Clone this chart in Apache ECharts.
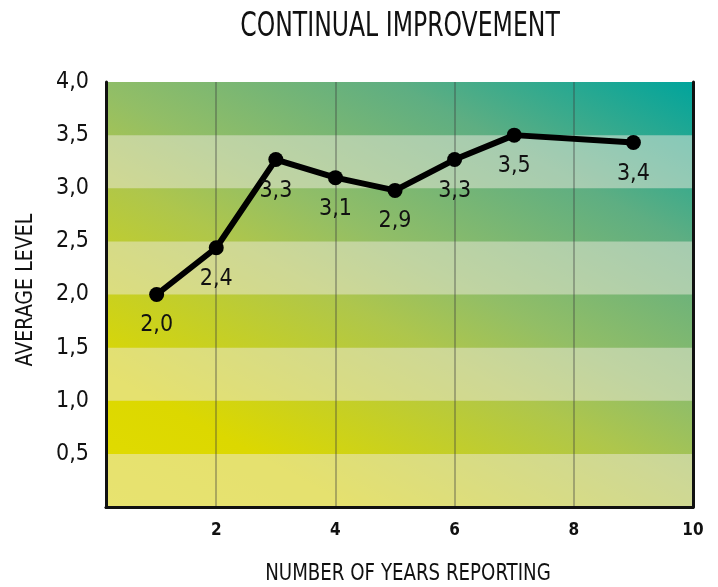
<!DOCTYPE html>
<html>
<head>
<meta charset="utf-8">
<script src="https://cdn.jsdelivr.net/npm/echarts@6/dist/echarts.min.js"></script>
<style>
  html, body { margin: 0; padding: 0; background: #fff; }
  #chart { width: 718px; height: 587px; }
</style>
</head>
<body>
<div id="chart"></div>
<script>
// data
const years = [1, 2, 3, 4, 5, 6, 7, 9];
const avgLevel = [2.0, 2.44, 3.27, 3.1, 2.98, 3.27, 3.5, 3.43];
const pointLabels = ["2,0", "2,4", "3,3", "3,1", "2,9", "3,3", "3,5", "3,4"];
const yTicks = ["", "0,5", "1,0", "1,5", "2,0", "2,5", "3,0", "3,5", "4,0"];

const FONT = "'DejaVu Sans Condensed', 'DejaVu Sans', sans-serif";

const chart = echarts.init(document.getElementById("chart"));

// plot box in pixels
const G = { left: 106, right: 25, top: 82, bottom: 80 };
const boxW = 718 - G.left - G.right, boxH = 587 - G.top - G.bottom;
const cx = G.left + boxW / 2, cy = G.top + boxH / 2;

// yellow (bottom left) to teal (top right), tilted steeper than the box diagonal
const ang = Math.atan(1.84);
const dx = Math.cos(ang), dy = -Math.sin(ang);
const half = (boxW / 2) * dx + (boxH / 2) * (-dy);
const bg = new echarts.graphic.LinearGradient(
    cx - half * dx, cy - half * dy, cx + half * dx, cy + half * dy,
    [
        { offset: 0, color: "#e2dc00" },
        { offset: 0.18, color: "#dcd800" },
        { offset: 0.45, color: "#aec64c" },
        { offset: 0.56, color: "#92be66" },
        { offset: 0.78, color: "#5eae82" },
        { offset: 1, color: "#00a49c" }
    ],
    true
);

const option = {
    animation: false,
    graphic: [
        {
            type: "text", x: 400, y: 27, scaleX: 0.77,
            style: {
                text: "CONTINUAL IMPROVEMENT", fill: "#111",
                font: "normal 34px " + FONT, align: "center", verticalAlign: "middle"
            }
        },
        {
            type: "text", x: 408, y: 574, scaleX: 0.88,
            style: {
                text: "NUMBER OF YEARS REPORTING", fill: "#111",
                font: "normal 23px " + FONT, align: "center", verticalAlign: "middle"
            }
        },
        {
            type: "text", x: 26, y: 290, rotation: Math.PI / 2, scaleX: 0.92,
            style: {
                text: "AVERAGE LEVEL", fill: "#111",
                font: "normal 23px " + FONT, align: "center", verticalAlign: "middle"
            }
        }
    ],
    grid: {
        left: G.left, right: G.right, top: G.top, bottom: G.bottom,
        show: true,
        backgroundColor: bg,
        borderWidth: 0
    },
    xAxis: [
        {
            type: "value",
            min: 0.15,
            max: 10,
            splitNumber: 5,
            axisLine: { show: true, lineStyle: { color: "#111", width: 3 } },
            axisTick: { show: false },
            axisLabel: {
                margin: 15,
                fontFamily: FONT, fontSize: 17, fontWeight: "bold", color: "#111",
                formatter: v => (v >= 1 ? String(v) : "")
            },
            splitLine: { show: true, lineStyle: { color: "rgba(60,60,60,0.35)", width: 2 } }
        },
        {
            type: "value", position: "top", min: 0.15, max: 10,
            axisLine: { show: true, lineStyle: { color: "#111", width: 2.5 } },
            axisTick: { show: false }, axisLabel: { show: false }, splitLine: { show: false }
        }
    ],
    yAxis: [
        {
            type: "value",
            min: 0,
            max: 4,
            interval: 0.5,
            axisLine: { show: true, lineStyle: { color: "#111", width: 3 } },
            axisTick: { show: false },
            axisLabel: {
                margin: 17,
                fontFamily: FONT, fontSize: 23, color: "#111",
                formatter: (v, i) => yTicks[i]
            },
            splitLine: { show: false },
            splitArea: {
                show: true,
                areaStyle: { color: ["rgba(238,234,222,0.5)", "rgba(0,0,0,0)"] }
            }
        },
        {
            type: "value", position: "right", min: 0, max: 4, interval: 0.5,
            axisLine: { show: true, lineStyle: { color: "#111", width: 3 } },
            axisTick: { show: false }, axisLabel: { show: false }, splitLine: { show: false }
        }
    ],
    series: [
        {
            type: "line",
            data: years.map((x, i) => [x, avgLevel[i]]),
            symbol: "circle",
            symbolSize: 15,
            itemStyle: { color: "#000" },
            lineStyle: { color: "#000", width: 6 },
            label: {
                show: true,
                position: "bottom",
                distance: 12,
                fontFamily: FONT, fontSize: 23, color: "#111",
                formatter: p => pointLabels[p.dataIndex]
            },
            z: 5
        }
    ]
};

chart.setOption(option);
window.addEventListener("resize", () => chart.resize());
</script>
</body>
</html>
